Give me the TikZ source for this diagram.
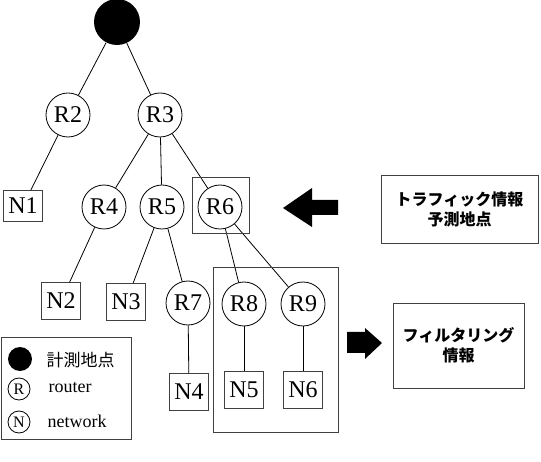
\documentclass[tikz,border=0pt]{standalone}
\usepackage{fontspec}
\setmainfont{Liberation Serif}
\newfontfamily\cjk{Noto Sans CJK JP}
\begin{document}
\begin{tikzpicture}[x=1pt,y=-1pt,line width=0.8pt,
  router/.style={draw,circle,inner sep=0pt,minimum size=44pt,font=\fontsize{24}{26}\selectfont},
  net/.style={draw=black!75,inner sep=0pt,minimum width=39pt,minimum height=37pt,font=\fontsize{24}{26}\selectfont},
  frame/.style={draw=black!75,inner sep=0pt},
  note/.style={frame,align=center,font=\cjk\bfseries\fontsize{16}{20}\selectfont},
  symb/.style={draw,circle,inner sep=0pt,minimum size=22pt,font=\fontsize{16}{16}\selectfont}]
\useasboundingbox(0,0)rectangle(541,462);
% tree
\node[circle,fill=black,minimum size=46pt,inner sep=0pt](top)at(117,22){};
\node[router](R2)at(68,115){R2};
\node[router](R3)at(160,115){R3};
\node[net,minimum height=31pt](N1)at(23,206){N1};
\node[router](R4)at(104,207){R4};
\node[router](R5)at(162,207){R5};
\node[router](R6)at(220,207){R6};
\node[net](N2)at(61,301){N2};
\node[net](N3)at(126,302){N3};
\node[router](R7)at(188,303){R7};
\node[router](R8)at(244,304){R8};
\node[router](R9)at(303,304){R9};
\node[net](N4)at(189,392){N4};
\node[net](N5)at(244,390){N5};
\node[net](N6)at(303,390){N6};
\draw(top)--(R2);\draw(top)--(R3);
\draw(R2)--(N1);
\draw(R3)--(R4);\draw(R3)--(R5);\draw(R3)--(R6);
\draw(R4)--(N2);\draw(R5)--(N3);\draw(R5)--(R7);
\draw(R6)--(R8);\draw(R6)--(R9);
\draw(R7)--(N4);\draw(R8)--(N5);\draw(R9)--(N6);
% frames
\node[frame,minimum width=57pt,minimum height=56pt](R6box)at(220.5,205){};
\node[frame,minimum width=125pt,minimum height=165pt](filt)at(275.5,349.5){};
\node[note,minimum width=157pt,minimum height=68pt](pred)at(459.5,209){トラフィック情報\\予測地点};
\node[note,minimum width=131pt,minimum height=85pt](info)at(458.5,345.5){フィルタリング\\情報};
% arrows
\fill(283,208)--(312,188)--(312,200)--(338,200)--(338,215)--(312,215)--(312,227)--cycle;
\fill(382,343)--(365,328)--(365,332)--(347,332)--(347,353)--(365,353)--(365,359)--cycle;
% legend
\node[frame,minimum width=130pt,minimum height=102pt](legend)at(66,388){};
\node[circle,fill=black,minimum size=24pt,inner sep=0pt](dot)at(20,359){};
\node[anchor=west,font=\cjk\fontsize{17}{17}\selectfont]at(43,360){計測地点};
\node[symb](mR)at(19,389){R};
\node[anchor=west,font=\fontsize{18}{18}\selectfont]at(45,388){router};
\node[symb](mN)at(19,422){N};
\node[anchor=west,font=\fontsize{18}{18}\selectfont]at(44,421){network};
\end{tikzpicture}
\end{document}
